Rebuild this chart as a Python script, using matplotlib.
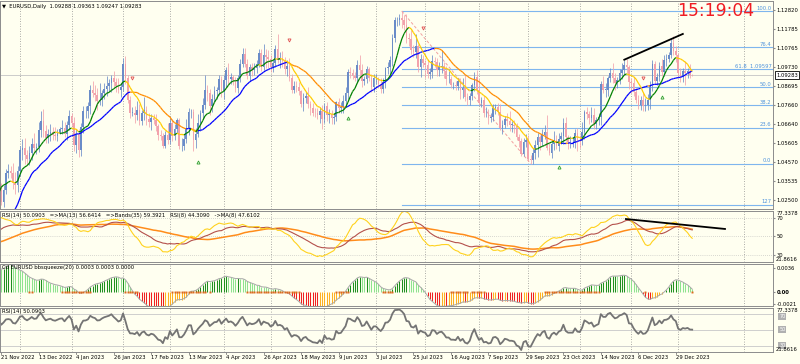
import numpy as np
import pandas as pd
import matplotlib
matplotlib.use("Agg")
import matplotlib.pyplot as plt
import matplotlib.transforms as mtrans
from matplotlib.collections import LineCollection

plt.rcParams['font.family'] = ['DejaVu Sans']

# --- data: EURUSD daily, prices in pips (x 1e-4) ---------------------------
# warm-up bars (12 Sep 2022 - 18 Nov 2022), only used by the indicators
warmup_close = [10120, 10000, 9980, 9995, 10015, 10025, 9970, 9835, 9838, 9690,
                9605, 9590, 9735, 9815, 9800, 9825, 9985, 9885, 9792, 9740,
                9705, 9705, 9705, 9780, 9720, 9840, 9855, 9775, 9780, 9860,
                9875, 9965, 10077, 9965, 9965, 9882, 9875, 9818, 9750, 9960,
                10020, 10075, 10010, 10206, 10355, 10326, 10350, 10390, 10362, 10325]
warmup_up = [30, 25, 20, 35, 15, 20, 30, 40, 10, 25, 35, 30, 20, 25, 45, 15, 20, 40, 25, 30,
             25, 30, 40, 35, 90, 20, 25, 45, 30, 20, 35, 30, 15, 60, 25, 30, 40, 45, 20, 15,
             25, 30, 60, 15, 25, 40, 95, 30, 25, 40]
warmup_dn = [20, 35, 25, 40, 30, 25, 15, 30, 45, 20, 30, 35, 40, 20, 25, 40, 30, 20, 35, 25,
             30, 40, 25, 100, 20, 30, 20, 25, 40, 30, 25, 20, 40, 30, 25, 30, 20, 35, 25, 40,
             30, 35, 20, 30, 25, 30, 20, 40, 35, 25]

# visible bars, 21 Nov 2022 - 10 Jan 2024 (one row = one week)
close_pips = [
    10241, 10305, 10396, 10408, 10398, 10340, 10330, 10406, 10522, 10535,
    10492, 10470, 10507, 10556, 10530, 10537, 10630, 10680, 10627, 10585,
    10607, 10622, 10604, 10597, 10616, 10635, 10640, 10611, 10660, 10705,
    10670, 10550, 10608, 10521, 10645, 10732, 10735, 10760, 10850, 10830,
    10820, 10790, 10795, 10830, 10855, 10870, 10885, 10915, 10890, 10870,
    10847, 10863, 10990, 10910, 10795, 10725, 10725, 10712, 10740, 10680,
    10723, 10737, 10690, 10675, 10695, 10685, 10650, 10605, 10595, 10545,
    10605, 10575, 10668, 10598, 10635, 10682, 10545, 10545, 10580, 10642,
    10730, 10730, 10575, 10610, 10670, 10720, 10768, 10850, 10830, 10760,
    10800, 10840, 10845, 10905, 10840, 10900, 10955, 10905, 10920, 10900,
    10860, 10910, 10990, 11045, 10990, 10925, 10970, 10955, 10965, 10990,
    11050, 10975, 11040, 11025, 11015, 10975, 10995, 11070, 11012, 11020,
    11005, 10960, 10980, 10915, 10850, 10870, 10865, 10840, 10770, 10805,
    10815, 10770, 10750, 10725, 10720, 10710, 10735, 10690, 10760, 10710,
    10715, 10695, 10700, 10780, 10750, 10755, 10790, 10830, 10945, 10940,
    10925, 10915, 10985, 10955, 10895, 10905, 10960, 10915, 10865, 10910,
    10910, 10880, 10855, 10890, 10965, 10970, 11010, 11130, 11225, 11230,
    11240, 11225, 11200, 11130, 11125, 11065, 11055, 11085, 10975, 11015,
    10995, 10985, 10935, 10945, 11005, 11000, 10955, 10975, 10980, 10950,
    10905, 10905, 10875, 10875, 10870, 10895, 10845, 10860, 10810, 10795,
    10815, 10875, 10920, 10845, 10775, 10795, 10720, 10725, 10695, 10700,
    10750, 10755, 10730, 10640, 10660, 10690, 10680, 10660, 10660, 10650,
    10590, 10570, 10500, 10565, 10575, 10475, 10465, 10505, 10550, 10590,
    10565, 10605, 10620, 10530, 10505, 10555, 10575, 10545, 10580, 10595,
    10670, 10590, 10565, 10565, 10565, 10615, 10575, 10570, 10620, 10730,
    10715, 10695, 10710, 10665, 10685, 10700, 10880, 10850, 10850, 10915,
    10940, 10910, 10885, 10900, 10940, 10955, 10985, 10970, 10890, 10885,
    10835, 10795, 10765, 10795, 10760, 10765, 10795, 10875, 10990, 10895,
    10920, 10980, 10945, 11010, 11015, 11040, 11105, 11060, 11040,
    10940, 10920, 10948, 10940, 10950, 10930, 10928.3]
wick_up = [
    20, 25, 20, 40, 25, 55, 60, 30, 20, 45, 50, 30, 35, 30, 60, 20, 45, 55, 65, 30,
    30, 40, 25, 45, 20, 10, 45, 35, 20, 35, 15, 30, 30, 25, 25, 30, 25, 20, 25, 45,
    45, 40, 90, 20, 30, 55, 20, 15, 35, 25, 40, 25, 30, 43, 20, 20, 30, 35, 50, 30,
    15, 70, 25, 35, 20, 20, 30, 15, 25, 20, 20, 65, 25, 20, 30, 12, 15, 40, 30, 50,
    20, 15, 15, 30, 45, 20, 35, 80, 25, 25, 25, 30, 20, 25, 20, 30, 20, 40, 20, 10,
    20, 20, 25, 30, 30, 25, 20, 25, 30, 20, 20, 20, 55, 30, 40, 25, 15, 22, 80, 35,
    40, 20, 30, 40, 20, 25, 25, 25, 10, 25, 20, 50, 20, 25, 25, 30, 20, 30, 15, 20,
    30, 25, 20, 10, 25, 30, 30, 35, 15, 30, 20, 20, 25, 55, 35, 20, 20, 15, 20, 25,
    25, 10, 30, 25, 10, 30, 20, 20, 20, 15, 20, 36, 30, 60, 25, 50, 25, 65, 15, 30,
    20, 15, 30, 20, 35, 20, 20, 25, 85, 20, 30, 45, 20, 15, 20, 20, 20, 50, 70, 20,
    15, 10, 25, 35, 60, 15, 20, 30, 20, 20, 20, 15, 20, 40, 25, 15, 30, 55, 20, 25,
    20, 20, 15, 20, 35, 30, 20, 30, 25, 25, 15, 30, 35, 90, 30, 15, 50, 30, 35, 25,
    25, 30, 15, 35, 25, 20, 25, 30, 55, 10, 25, 20, 45, 40, 15, 20, 15, 45, 35, 10,
    25, 55, 30, 20, 20, 40, 24, 32, 15, 25, 35, 25, 25, 20, 35, 40, 30, 20, 19, 15,
    20, 20, 35, 30, 30, 15, 20, 34, 25,
    10, 25, 20, 55, 15, 40, 6]
wick_dn = [
    20, 30, 25, 25, 30, 30, 45, 35, 25, 55, 45, 25, 30, 40, 20, 30, 25, 40, 35, 25,
    25, 35, 30, 20, 25, 10, 25, 20, 35, 30, 20, 35, 45, 35, 30, 30, 35, 40, 45, 20,
    30, 50, 25, 35, 30, 40, 30, 50, 25, 35, 15, 35, 20, 30, 20, 30, 20, 45, 30, 25,
    20, 40, 35, 30, 45, 20, 25, 30, 20, 15, 15, 20, 20, 30, 20, 20, 20, 30, 25, 20,
    40, 35, 59, 45, 20, 45, 30, 25, 40, 50, 30, 20, 40, 25, 30, 40, 35, 25, 25, 25,
    25, 30, 20, 20, 20, 20, 30, 30, 25, 25, 20, 25, 20, 60, 50, 30, 30, 20, 20, 45,
    35, 25, 35, 20, 20, 20, 30, 20, 15, 35, 30, 20, 40, 20, 20, 20, 40, 55, 20, 30,
    40, 30, 30, 20, 25, 30, 35, 35, 30, 30, 20, 20, 30, 35, 30, 20, 20, 20, 30, 30,
    30, 20, 25, 25, 30, 30, 40, 30, 20, 30, 30, 40, 25, 25, 40, 20, 30, 35, 30, 55,
    20, 70, 20, 30, 30, 25, 30, 30, 35, 35, 30, 20, 15, 20, 20, 25, 45, 40, 20, 30,
    30, 20, 35, 20, 10, 20, 20, 20, 30, 20, 20, 35, 20, 10, 30, 20, 30, 35, 40, 35,
    15, 30, 12, 10, 25, 15, 17, 20, 30, 65, 45, 20, 25, 10, 10, 25, 35, 20, 30, 25,
    40, 20, 40, 35, 25, 30, 60, 35, 20, 40, 25, 30, 20, 30, 30, 30, 40, 20, 40, 35,
    25, 25, 35, 25, 20, 35, 25, 30, 35, 55, 20, 20, 20, 25, 25, 25, 25, 50, 35, 15,
    20, 25, 20, 20, 30, 15, 20, 20, 40,
    15, 30, 30, 65, 30, 15, 3]

holidays = ["2023-12-25", "2024-01-01"]

# fibonacci retracement (18 Jul 2023 high -> 3 Oct 2023 low)
fib_high, fib_low = 1.12760, 1.04480
fib_start_bar = 171
fib_end_bar = 226
fib_ratios = [1.0, 0.764, 0.618, 0.5, 0.382, 0.236, 0.0, -0.27]
fib_labels = ["100.0", "76.4", "61.8  1.09597", "50.0", "38.2", "23.6", "0.0", "127"]

# signal arrows (bar index, price)
sell_bars = [56, 123, 180, 274]
sell_prices = [1.0913, 1.1119, 1.1184, 1.0913]
buy_bars = [84, 148, 238, 282]
buy_prices = [1.0456, 1.0695, 1.0429, 1.0809]

# hand drawn trendlines
price_trend_bars = [266, 291]
price_trend_vals = [1.1012, 1.1152]
rsi_trend_bars = [266.7, 309]
rsi_trend_vals = [68.6, 57.8]

price_ticks = [1.12820, 1.11785, 1.10765, 1.09730, 1.08695, 1.07660,
               1.06640, 1.05605, 1.04570, 1.03535, 1.02500]
title_txt = "\u25BC  EURUSD,Daily  1.09288 1.09363 1.09247 1.09283"
rsima_txt = ("RSI(14) 50.0903   =>MA(13) 56.6414   =>Bands(35) 59.3921   "
             "RSI(8) 44.3090   ->MA(8) 47.6102")
sq_txt = "Cd EURUSD bbsqueeze(20) 0.0003 0.0003 0.0000"
rsi_txt = "RSI(14) 50.0903"
rsi_lo, rsi_hi = 21.8616, 77.3378

# --- series -----------------------------------------------------------------
n_warm = len(warmup_close)
dates = pd.bdate_range("2022-09-12", "2024-01-10")
dates = dates[~dates.isin(pd.to_datetime(holidays))]
close = pd.Series(np.array(warmup_close + close_pips, dtype=float) / 1e4)
up = np.array(warmup_up + wick_up, dtype=float) / 1e4
dn = np.array(warmup_dn + wick_dn, dtype=float) / 1e4
opn = close.shift(1).fillna(close.iloc[0])
high = pd.Series(np.maximum(opn, close) + up)
low = pd.Series(np.minimum(opn, close) - dn)
xb = np.arange(len(close)) - n_warm          # bar 0 = 21 Nov 2022
vis = xb >= -1
vdates = dates[n_warm:]

ma_fast = close.rolling(8).mean()
ma_slow = close.rolling(21).mean()


def rsi(s, n):
    d = s.diff()
    g = d.clip(lower=0).ewm(alpha=1 / n, adjust=False).mean()
    l = (-d.clip(upper=0)).ewm(alpha=1 / n, adjust=False).mean()
    return 100 - 100 / (1 + g / l)


rsi14 = rsi(close, 14)
rsi8 = rsi(close, 8)
rsi_ma13 = rsi14.rolling(13).mean()
rsi_band35 = rsi14.rolling(35).mean()
rsi8_ma8 = rsi8.rolling(8).mean()

# bbsqueeze momentum + squeeze state
n = 20
sma20 = close.rolling(n).mean()
src = close - ((high.rolling(n).max() + low.rolling(n).min()) / 2 + sma20) / 2


def linreg_last(a):
    t = np.arange(len(a))
    k, b = np.polyfit(t, a, 1)
    return b + k * (len(a) - 1)


mom = src.rolling(n).apply(linreg_last, raw=True)
tr = pd.concat([high - low, (high - close.shift()).abs(),
                (low - close.shift()).abs()], axis=1).max(axis=1)
atr = tr.rolling(n).mean()
squeeze = (2 * close.rolling(n).std(ddof=0)) < (1.5 * atr)

# --- figure -----------------------------------------------------------------
BG = '#FFFFF0'
W, H = 800, 364
FS = 3.8


def pane(top, bottom):
    return [0, 1 - bottom / H, 773 / W, (bottom - top) / H]


fig = plt.figure(figsize=(W / 100, H / 100), dpi=100, facecolor=BG)
ax = fig.add_axes(pane(1, 209))
ax2 = fig.add_axes(pane(211, 262), sharex=ax)
ax3 = fig.add_axes(pane(264, 306), sharex=ax)
ax4 = fig.add_axes(pane(308, 352), sharex=ax)
axes = [ax, ax2, ax3, ax4]

# month separators
month_start = [i for i in range(1, len(vdates)) if vdates[i].month != vdates[i - 1].month]
month_start.append(317)
for a in axes:
    a.set_facecolor(BG)
    for sp in a.spines.values():
        sp.set_color('#8c8c8c')
        sp.set_linewidth(0.7)
    a.yaxis.tick_right()
    a.tick_params(axis='y', labelsize=FS, length=1.5, pad=1, color='#8c8c8c')
    a.tick_params(axis='x', bottom=False, labelbottom=False)
    for m in month_start:
        a.axvline(m, color='#909090', lw=0.6, ls=(0, (1, 2)), zorder=0)
ax.set_xlim(-0.54, 329.5)

right = lambda a: mtrans.blended_transform_factory(a.transAxes, a.transData)

# ---- main price pane
ax.set_ylim(1.02011, 1.13309)
ax.set_yticks(price_ticks)
ax.set_yticklabels([f"{v:.5f}" for v in price_ticks])

for r, lab in zip(fib_ratios, fib_labels):
    p = fib_low + r * (fib_high - fib_low)
    ax.plot([fib_start_bar, 329.5], [p, p], color='#7fb6ee', lw=0.8, zorder=1)
    ax.text(0.998, p + 0.0002, lab, transform=right(ax), ha='right', va='bottom',
            fontsize=FS, color='#4f93dc', zorder=5)
ax.plot([fib_start_bar, fib_end_bar], [fib_high, fib_low], color='#f2a0a0',
        lw=0.7, ls=(0, (3, 2)), zorder=1)

last = close.iloc[-1]
ax.axhline(last, color='#c4c4c4', lw=0.6, zorder=1)

xv = xb[n_warm:]
o, c = opn.values[n_warm:], close.values[n_warm:]
hi, lo = high.values[n_warm:], low.values[n_warm:]
bull = c >= o
ccol = np.where(bull, '#6a8cc8', '#f2a2ac')
ax.vlines(xv, lo, hi, colors=ccol, lw=0.55, zorder=2)
body = np.maximum(np.abs(c - o), 0.00006)
ax.bar(xv, body, bottom=np.minimum(o, c), width=0.7, color=ccol, lw=0, zorder=2)


def two_color(a, x, y, c_up, c_dn, lw):
    pts = np.column_stack([x, y])
    segs = np.stack([pts[:-1], pts[1:]], axis=1)
    cols = np.where(np.diff(y) >= 0, c_up, c_dn)
    ok = ~np.isnan(segs).any(axis=(1, 2))
    a.add_collection(LineCollection(segs[ok], colors=cols[ok], linewidths=lw, zorder=3))


two_color(ax, xb[vis], ma_slow.values[vis], '#0000ff', '#ff8c00', 0.9)
two_color(ax, xb[vis], ma_fast.values[vis], '#008000', '#ffcc00', 0.9)

ax.plot(sell_bars, sell_prices, 'v', ms=2.2, mfc='none', mec='#e05050', mew=0.6, zorder=4)
ax.plot(buy_bars, buy_prices, '^', ms=2.2, mfc='none', mec='#2fa02f', mew=0.6, zorder=4)
ax.plot(price_trend_bars, price_trend_vals, color='black', lw=1.3, zorder=5)

ax.text(1.004, last, "1.09283", transform=right(ax), fontsize=FS, va='center',
        ha='left', bbox=dict(boxstyle='square,pad=0.25', fc='white', ec='black', lw=0.6),
        clip_on=False, zorder=6)
ax.text(0.003, 0.985, title_txt, transform=ax.transAxes, fontsize=FS, va='top', ha='left')
ax.text(677 / 773, 1 - 10 / 208, "15:19:04", transform=ax.transAxes, fontsize=12.3,
        color='#f01c24', ha='left', va='center', zorder=7)

# ---- RSI / MA pane
ax2.set_ylim(rsi_lo, rsi_hi)
for lv in (70, 50, 30):
    ax2.axhline(lv, color='#b4b4b4', lw=0.5, ls=(0, (1, 2)), zorder=0)
ax2.plot(xb[vis], rsi_band35.values[vis], color='#ff8c1a', lw=1.1)
ax2.plot(xb[vis], rsi_ma13.values[vis], color='#b4504b', lw=0.8)
ax2.plot(xb[vis], rsi8_ma8.values[vis], color='#ffd21e', lw=0.8)
ax2.plot(rsi_trend_bars, rsi_trend_vals, color='black', lw=1.3, clip_on=False)
ax2.set_yticks([70, 50, 30])
ax2.set_yticklabels(["70", "50", "30"])
ax2.text(1.004, rsi_hi, "77.3378", transform=right(ax2), fontsize=FS, va='top')
ax2.text(1.004, rsi_lo, "21.8616", transform=right(ax2), fontsize=FS, va='bottom')
ax2.text(0.003, 0.97, rsima_txt, transform=ax2.transAxes, fontsize=FS, va='top')

# ---- bbsqueeze pane
mv = mom.values[n_warm:]
rising = np.diff(mom.values)[n_warm - 1:] > 0
hcol = np.where(mv >= 0, np.where(rising, '#1f8f1f', '#8fe38f'),
                np.where(rising, '#ffb020', '#f02020'))
# scale from the humps after the opening rally; the extremes run off the pane
A = np.nanmax(mv[60:]) / 0.6
ax3.set_ylim(-A / 2, A)
ax3.vlines(xv, 0, mv, colors=hcol, lw=0.75)
ax3.plot(xv, mv, color='#a8a8a8', lw=0.7)
sq = squeeze.values[n_warm:]
ax3.plot(xv[sq], np.zeros(sq.sum()), 's', ms=1.4, color='#dc6a1e', mew=0)
ax3.set_yticks([0.857 * A, 0, -0.43 * A])
ax3.set_yticklabels(["0.0036", "0.00", "-0.0021"])
ax3.get_yticklabels()[1].set_fontweight('bold')
ax3.text(0.003, 0.97, sq_txt, transform=ax3.transAxes, fontsize=FS, va='top')

# ---- RSI pane
ax4.set_ylim(rsi_lo, rsi_hi)
for lv in (70, 50, 30):
    ax4.axhline(lv, color='#c8c8c8', lw=0.6, zorder=0)
ax4.plot(xb[vis], rsi14.values[vis], color='#747474', lw=1.3)
ax4.set_yticks([])
for lv, dy in zip((70, 50, 30), (-3.5, 0, 0)):
    ax4.text(1.008, lv + dy, str(lv), transform=right(ax4), fontsize=FS - 0.3, va='center',
             color='white', bbox=dict(boxstyle='square,pad=0.15', fc='#b0b0b0', ec='none'))
ax4.text(1.004, rsi_hi, "77.3378", transform=right(ax4), fontsize=FS, va='top')
ax4.text(1.004, rsi_lo, "21.8616", transform=right(ax4), fontsize=FS, va='bottom')
ax4.text(0.003, 0.97, rsi_txt, transform=ax4.transAxes, fontsize=FS, va='top')

# date labels every 16 bars
bt = mtrans.blended_transform_factory(ax4.transData, ax4.transAxes)
for i in range(0, len(vdates), 16):
    d = vdates[i]
    ax4.plot([i, i], [0, -0.05], color='#606060', lw=0.5, transform=bt, clip_on=False)
    ax4.text(i, -0.06, f"{d.day} {d.strftime('%b %Y')}", transform=bt, fontsize=FS,
             ha='left', va='top')

fig.savefig("out.png", dpi=100, facecolor=BG)
